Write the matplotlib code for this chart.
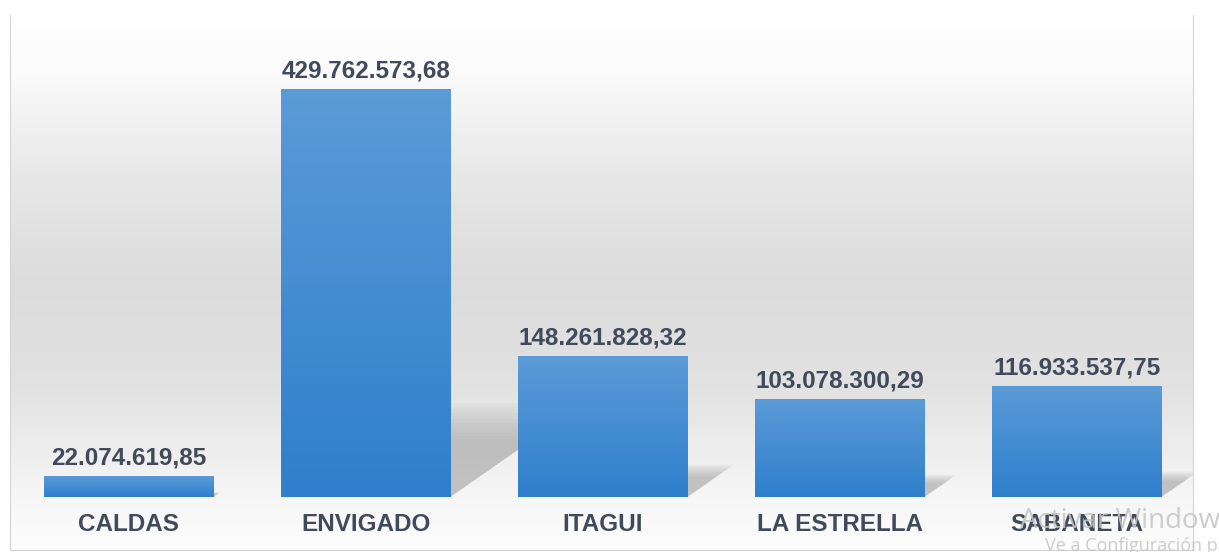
import matplotlib.pyplot as plt
import numpy as np
from matplotlib.colors import LinearSegmentedColormap
from matplotlib.patches import Polygon

municipios = ["CALDAS", "ENVIGADO", "ITAGUI", "LA ESTRELLA", "SABANETA"]
valores = [22074619.85, 429762573.68, 148261828.32, 103078300.29, 116933537.75]
etiquetas = ["22.074.619,85", "429.762.573,68", "148.261.828,32",
             "103.078.300,29", "116.933.537,75"]

plt.rcParams['font.family'] = ['Liberation Sans', 'DejaVu Sans']

fig = plt.figure(figsize=(12.19, 5.52), dpi=100)
ax = fig.add_axes([10 / 1219, 2 / 552, 1183 / 1219, 535 / 552])
ax.set_xlim(-0.5, 4.49)
ax.set_ylim(-55.8e6, 507.7e6)

# fondo degradado (arriba -> abajo)
fondo = LinearSegmentedColormap.from_list(
    "fondo", [(0.0, "#ffffff"), (0.1, "#fbfbfb"), (0.3, "#e8e8e8"),
              (0.5, "#dcdcdc"), (0.7, "#e2e2e2"), (0.88, "#f4f4f4"),
              (1.0, "#fdfdfd")])
grad = np.linspace(0, 1, 256).reshape(-1, 1)
ax.imshow(grad, cmap=fondo, aspect="auto", extent=[0, 1, 0, 1],
          transform=ax.transAxes, zorder=0)

x = np.arange(len(municipios))
ancho = 0.713

# sombras en perspectiva
px_x = 1183 / 4.99
px_y = 535 / (507.7e6 + 55.8e6)
for xi, v in zip(x, valores):
    h_px = v * px_y
    dx = 0.33 * h_px / px_x
    dy = 0.23 * v
    izq, der = xi - ancho / 2, xi + ancho / 2
    for k in range(12):
        f = 1 - k * 0.035
        poly = Polygon([(izq + 0.02, 0), (der, 0), (der + dx * f, dy * f),
                        (izq + dx * f, dy * f)], closed=True,
                       facecolor="#9a9a9a", edgecolor="none", alpha=0.06,
                       zorder=1)
        ax.add_patch(poly)

# barras con degradado
barras = ax.bar(x, valores, width=ancho, color="none", zorder=2)
azul = LinearSegmentedColormap.from_list("azul", ["#2f7fcc", "#5b9bd7"])
for b in barras:
    x0, y0 = b.get_x(), b.get_y()
    img = ax.imshow(grad, cmap=azul, aspect="auto", origin="lower",
                    extent=[x0, x0 + b.get_width(), y0, y0 + b.get_height()],
                    zorder=2)
    img.set_clip_path(b)

for xi, v, t in zip(x, valores, etiquetas):
    ax.annotate(t, (xi, v), xytext=(0, 5), textcoords="offset points",
                ha="center", va="bottom", fontsize=17.5, fontweight="bold",
                color="#404a5a", zorder=3)
    ax.annotate(municipios[xi], (xi, 0), xytext=(0, -20),
                textcoords="offset points", ha="center", va="center",
                fontsize=17.5, fontweight="bold", color="#404a5a", zorder=3)

ax.set_xlim(-0.5, 4.49)
ax.set_ylim(-55.8e6, 507.7e6)
ax.set_xticks([])
ax.set_yticks([])
for lado in ["left", "right", "bottom"]:
    ax.spines[lado].set_color("#d4d4d4")
ax.spines["top"].set_visible(False)

# marca de agua de Windows (recortada por el borde, como en la captura)
fig.text(1020 / 1219, 1 - 521 / 552, "Activar Windows", fontsize=20,
         color="#c4c4c4", alpha=0.85, va="center", ha="left",
         family=["Open Sans", "DejaVu Sans"])
fig.text(1045 / 1219, 1 - 546 / 552, "Ve a Configuración para activar Windows.",
         fontsize=13, color="#c4c4c4", alpha=0.85, va="center", ha="left",
         family=["Open Sans", "DejaVu Sans"])

fig.savefig("out.png", dpi=100)
